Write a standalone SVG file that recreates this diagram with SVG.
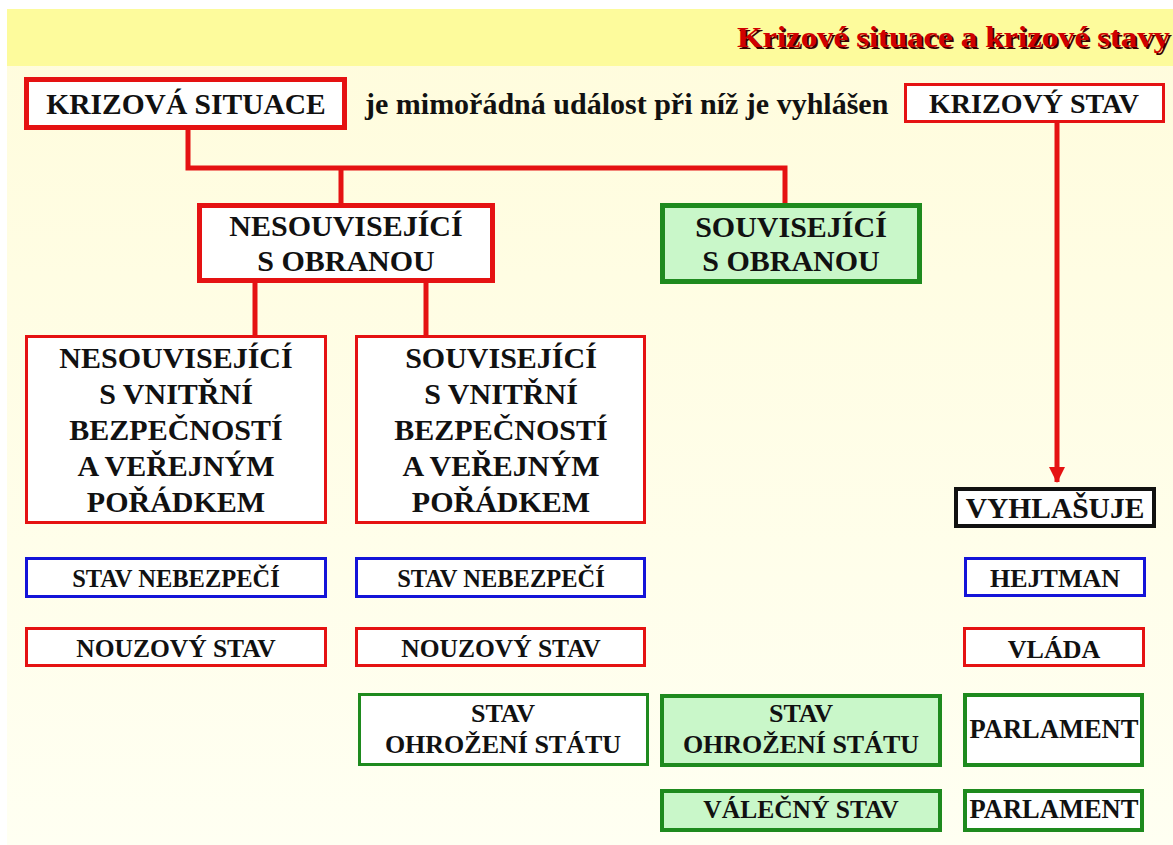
<svg xmlns="http://www.w3.org/2000/svg" width="1173" height="845" viewBox="0 0 1173 845">
  <defs>
    <linearGradient id="bg" x1="0" y1="0" x2="0" y2="1">
      <stop offset="0" stop-color="#FFFCDC"/>
      <stop offset="1" stop-color="#FFFFF2"/>
    </linearGradient>
    <marker id="arrow" viewBox="0 0 16 16" refX="15" refY="8" markerWidth="16" markerHeight="16" markerUnits="userSpaceOnUse" orient="auto">
      <path d="M0,0 L16,8 L0,16 Z" fill="#E51212"/>
    </marker>
    <style>
      text { font-family: "Liberation Serif", "Times New Roman", serif; font-weight: bold; fill: #111; text-anchor: middle; }
      .box { fill: #FFFFFF; }
      .red { stroke: #E51212; }
      .blue { stroke: #1414D8; }
      .green { stroke: #1E8A1E; }
      .black { stroke: #111; }
      .gfill { fill: #C9F7C9; }
      .w3 { stroke-width: 3; }
      .w4 { stroke-width: 4; }
      .w5 { stroke-width: 5; }
      .conn { fill: none; stroke: #E51212; stroke-width: 5; }
      .f30 { font-size: 30px; }
      .f29 { font-size: 29.5px; }
      .f26 { font-size: 26px; }
      .title { font-size: 30px; fill: #D00000; text-anchor: end; }
      .shadow { font-size: 30px; fill: #3A0000; text-anchor: end; }
    </style>
  </defs>

  <rect x="0" y="0" width="1173" height="845" fill="#FFFFFF"/>
  <rect x="7" y="9" width="1166" height="836" fill="url(#bg)"/>
  <rect x="7" y="9" width="1166" height="57" fill="#FDFB9C"/>

  <g id="title">
    <text class="shadow" x="1172" y="49" textLength="433" lengthAdjust="spacingAndGlyphs">Krizové situace a krizové stavy</text>
    <text class="title" x="1170" y="47" textLength="433" lengthAdjust="spacingAndGlyphs">Krizové situace a krizové stavy</text>
  </g>

  <g id="connectors">
    <path class="conn" d="M188,130 V168 H785 V203"/>
    <path class="conn" d="M341,168 V203"/>
    <path class="conn" d="M255,283 V335"/>
    <path class="conn" d="M426,283 V335"/>
    <path class="conn" d="M1057,123 V482" stroke-width="4" marker-end="url(#arrow)"/>
  </g>

  <g id="krizova-situace">
    <rect class="box red w5" x="26.5" y="79.5" width="318" height="48"/>
    <text class="f29" x="186" y="114">KRIZOVÁ SITUACE</text>
  </g>

  <g id="definice">
    <text class="f30" x="365" y="114" style="text-anchor:start">je mimořádná událost při níž je vyhlášen</text>
  </g>

  <g id="krizovy-stav">
    <rect class="box red w3" x="905.5" y="84.5" width="258" height="37"/>
    <text x="1034" y="113" style="font-size:28px">KRIZOVÝ STAV</text>
  </g>

  <g id="nesouvisejici-s-obranou">
    <rect class="box red w5" x="199.5" y="205.5" width="293" height="75"/>
    <text class="f30" x="346" y="236">NESOUVISEJÍCÍ</text>
    <text class="f30" x="346" y="271">S OBRANOU</text>
  </g>

  <g id="souvisejici-s-obranou">
    <rect class="gfill green w5" x="662.5" y="205.5" width="257" height="76"/>
    <text class="f30" x="791" y="237">SOUVISEJÍCÍ</text>
    <text class="f30" x="791" y="271">S OBRANOU</text>
  </g>

  <g id="nesouvisejici-s-vnitrni">
    <rect class="box red w3" x="26.5" y="336.5" width="299" height="186"/>
    <text class="f30" x="176" y="368">NESOUVISEJÍCÍ</text>
    <text class="f30" x="176" y="404">S VNITŘNÍ</text>
    <text class="f30" x="176" y="440">BEZPEČNOSTÍ</text>
    <text class="f30" x="176" y="476">A VEŘEJNÝM</text>
    <text class="f30" x="176" y="512">POŘÁDKEM</text>
  </g>

  <g id="souvisejici-s-vnitrni">
    <rect class="box red w3" x="356.5" y="336.5" width="288" height="186"/>
    <text class="f30" x="501" y="368">SOUVISEJÍCÍ</text>
    <text class="f30" x="501" y="404">S VNITŘNÍ</text>
    <text class="f30" x="501" y="440">BEZPEČNOSTÍ</text>
    <text class="f30" x="501" y="476">A VEŘEJNÝM</text>
    <text class="f30" x="501" y="512">POŘÁDKEM</text>
  </g>

  <g id="vyhlasuje">
    <rect class="box black w4" x="956" y="489" width="198" height="37"/>
    <text class="f29" x="1055" y="518">VYHLAŠUJE</text>
  </g>

  <g id="stav-nebezpeci-1">
    <rect class="box blue w3" x="26.5" y="558.5" width="299" height="38"/>
    <text x="176" y="587" style="font-size:24.5px">STAV NEBEZPEČÍ</text>
  </g>
  <g id="stav-nebezpeci-2">
    <rect class="box blue w3" x="356.5" y="558.5" width="288" height="38"/>
    <text x="501" y="587" style="font-size:24.5px">STAV NEBEZPEČÍ</text>
  </g>
  <g id="hejtman">
    <rect class="box blue w3" x="965.5" y="558.5" width="179" height="37"/>
    <text class="f26" x="1055" y="587">HEJTMAN</text>
  </g>

  <g id="nouzovy-stav-1">
    <rect class="box red w3" x="26.5" y="628.5" width="299" height="37"/>
    <text x="176" y="657" style="font-size:25.5px">NOUZOVÝ STAV</text>
  </g>
  <g id="nouzovy-stav-2">
    <rect class="box red w3" x="356.5" y="628.5" width="288" height="37"/>
    <text x="501" y="657" style="font-size:25.5px">NOUZOVÝ STAV</text>
  </g>
  <g id="vlada">
    <rect class="box red w3" x="964.5" y="628.5" width="179" height="37"/>
    <text class="f26" x="1054" y="658">VLÁDA</text>
  </g>

  <g id="stav-ohrozeni-statu-1">
    <rect class="box green w3" x="359.5" y="694.5" width="288" height="70"/>
    <text class="f26" x="503" y="722">STAV</text>
    <text class="f26" x="503" y="753">OHROŽENÍ STÁTU</text>
  </g>
  <g id="stav-ohrozeni-statu-2">
    <rect class="gfill green w4" x="662" y="696" width="278" height="69"/>
    <text class="f26" x="801" y="722">STAV</text>
    <text class="f26" x="801" y="753">OHROŽENÍ STÁTU</text>
  </g>
  <g id="parlament-1">
    <rect class="box green w4" x="965" y="695" width="177" height="70"/>
    <text x="1054" y="738" style="font-size:26.5px">PARLAMENT</text>
  </g>

  <g id="valecny-stav">
    <rect class="gfill green w4" x="662" y="791" width="278" height="39"/>
    <text x="801" y="818" style="font-size:25.5px">VÁLEČNÝ STAV</text>
  </g>
  <g id="parlament-2">
    <rect class="box green w4" x="965" y="791" width="177" height="39"/>
    <text x="1054" y="818" style="font-size:26.5px">PARLAMENT</text>
  </g>
</svg>
